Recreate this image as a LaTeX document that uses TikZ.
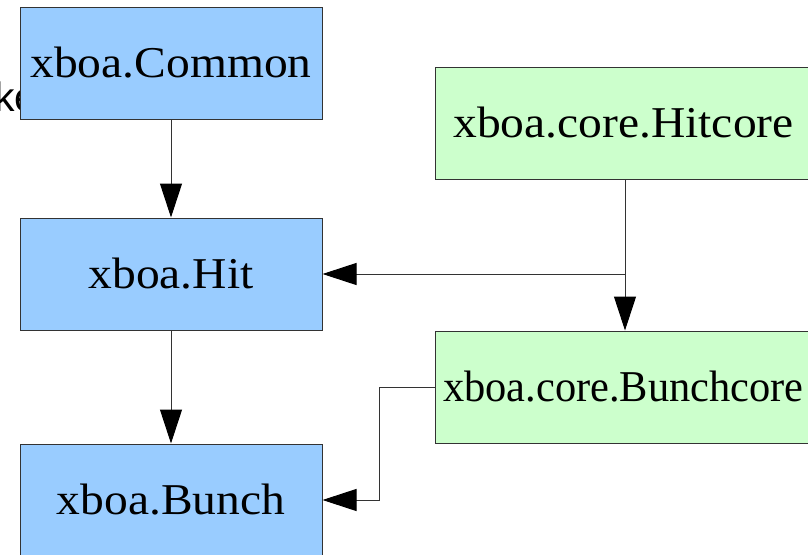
\documentclass[tikz,border=0pt]{standalone}
\usepackage{fontspec}
\setmainfont{Liberation Serif}[FakeStretch=1.08]
\newfontfamily\kefont{Liberation Sans}
\usetikzlibrary{arrows.meta}
\definecolor{boxblue}{HTML}{99CCFF}
\definecolor{boxgreen}{HTML}{CCFFCC}
\definecolor{lineg}{HTML}{333333}
\tikzset{
  modbox/.style={draw=lineg, line width=1pt, minimum width=302pt, minimum height=112pt,
    inner sep=0pt, font=\fontsize{44pt}{50pt}\selectfont, text=black, fill=boxblue},
  corebox/.style={modbox, fill=boxgreen, minimum width=377pt},
  conn/.style={draw=lineg, line width=1pt, -{Triangle[length=34pt,width=22pt,fill=black,color=black]}}
}
\begin{document}
\begin{tikzpicture}[x=1pt,y=-1pt]
\useasboundingbox (0,0) rectangle (808,554);
\clip (0,0) rectangle (808,554);
\fill[white] (0,0) rectangle (808,554);
\node[anchor=base west, inner sep=0pt, font=\kefont\fontsize{41pt}{46pt}\selectfont] (ke) at (-6,111) {ke};
\node[modbox] (common) at (171,63) {xboa.Common};
\node[modbox] (hit) at (171,274) {xboa.Hit};
\node[modbox] (bunch) at (171,500) {xboa.Bunch};
\node[corebox] (hitcore) at (623.5,123) {xboa.core.Hitcore};
\node[corebox] (bunchcore) at (623.5,387) {\scalebox{0.893}[1]{xboa.core.Bunchcore}};
\coordinate (j) at (625,274);
\coordinate (b) at (379,387);
\draw[conn] (common) -- (hit);
\draw[conn] (hit) -- (bunch);
\draw[conn] (j |- hitcore.south) -- (j |- bunchcore.north);
\draw[conn] (j) -- (j -| hit.east);
\draw[conn] (bunchcore.west) -- (b) |- (bunch.east);
\end{tikzpicture}
\end{document}
